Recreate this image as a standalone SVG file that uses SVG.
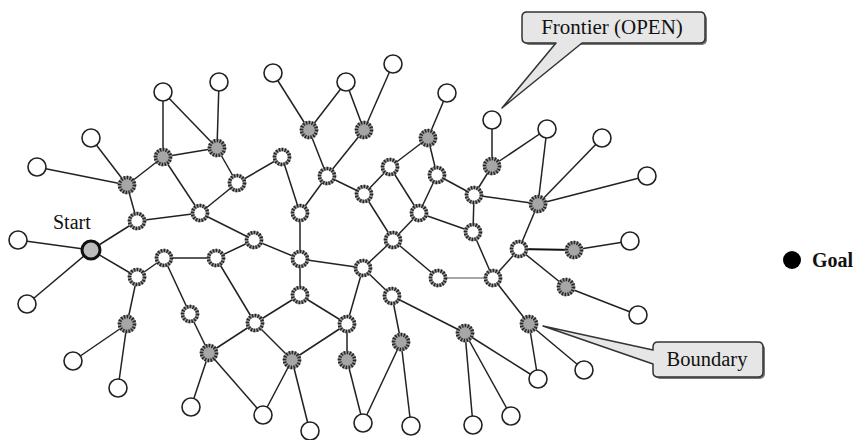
<svg xmlns="http://www.w3.org/2000/svg" xmlns:xlink="http://www.w3.org/1999/xlink" width="855" height="440" viewBox="0 0 855 440">
<style>
.e{stroke:#222;stroke-width:1.5;fill:none}
.leaf{fill:#fff;stroke:#222;stroke-width:1.6}
.rb{fill:#fff;stroke:#9a9a9a;stroke-width:3.6}
.gb{fill:#a6a6a6;stroke:#9a9a9a;stroke-width:3.6}
.rd{fill:none;stroke:#262626;stroke-width:3.6;stroke-dasharray:1.5 1.4}
.lbl{font-family:"Liberation Serif","Times New Roman",serif;fill:#111}
.box{fill:#e6e6e6;stroke:#333;stroke-width:1.5;stroke-linejoin:round}
.shadow{fill:#777}
</style>
<defs>
<g id="sh-ring"><circle r="7.5" class="rb"/><circle r="7.5" class="rd"/></g>
<g id="sh-gray"><circle r="7.5" class="gb"/><circle r="7.5" class="rd"/></g>
<circle id="sh-leaf" r="9" class="leaf"/>
</defs>
<rect width="855" height="440" fill="#fff"/>
<g id="connectors" class="e">
<line x1="91" y1="250" x2="18" y2="240"/>
<line x1="91" y1="250" x2="27" y2="304"/>
<line x1="91" y1="250" x2="137" y2="221"/>
<line x1="91" y1="250" x2="137" y2="277"/>
<line x1="137" y1="221" x2="127" y2="185"/>
<line x1="137" y1="221" x2="200" y2="213"/>
<line x1="127" y1="185" x2="37" y2="167"/>
<line x1="127" y1="185" x2="91" y2="138"/>
<line x1="127" y1="185" x2="163" y2="157"/>
<line x1="163" y1="157" x2="163" y2="92"/>
<line x1="163" y1="157" x2="217" y2="148"/>
<line x1="163" y1="157" x2="200" y2="213"/>
<line x1="217" y1="148" x2="163" y2="92"/>
<line x1="217" y1="148" x2="219" y2="82"/>
<line x1="217" y1="148" x2="237" y2="183"/>
<line x1="200" y1="213" x2="237" y2="183"/>
<line x1="200" y1="213" x2="254" y2="240"/>
<line x1="237" y1="183" x2="282" y2="157"/>
<line x1="282" y1="157" x2="300" y2="213"/>
<line x1="300" y1="213" x2="327" y2="176"/>
<line x1="300" y1="213" x2="300" y2="259"/>
<line x1="327" y1="176" x2="309" y2="130"/>
<line x1="327" y1="176" x2="364" y2="130"/>
<line x1="327" y1="176" x2="364" y2="194"/>
<line x1="309" y1="130" x2="273" y2="73"/>
<line x1="309" y1="130" x2="346" y2="82"/>
<line x1="364" y1="130" x2="346" y2="82"/>
<line x1="364" y1="130" x2="393" y2="64"/>
<line x1="364" y1="194" x2="390" y2="167"/>
<line x1="364" y1="194" x2="393" y2="240"/>
<line x1="390" y1="167" x2="428" y2="138"/>
<line x1="390" y1="167" x2="419" y2="213"/>
<line x1="428" y1="138" x2="447" y2="93"/>
<line x1="428" y1="138" x2="437" y2="175"/>
<line x1="437" y1="175" x2="419" y2="213"/>
<line x1="437" y1="175" x2="474" y2="195"/>
<line x1="419" y1="213" x2="393" y2="240"/>
<line x1="419" y1="213" x2="473" y2="232"/>
<line x1="393" y1="240" x2="363" y2="268"/>
<line x1="393" y1="240" x2="438" y2="278"/>
<line x1="474" y1="195" x2="473" y2="232"/>
<line x1="474" y1="195" x2="492" y2="166"/>
<line x1="474" y1="195" x2="538" y2="204"/>
<line x1="492" y1="166" x2="492" y2="120"/>
<line x1="492" y1="166" x2="547" y2="129"/>
<line x1="538" y1="204" x2="547" y2="129"/>
<line x1="538" y1="204" x2="602" y2="138"/>
<line x1="538" y1="204" x2="647" y2="176"/>
<line x1="538" y1="204" x2="519" y2="249"/>
<line x1="473" y1="232" x2="493" y2="278"/>
<line x1="438" y1="278" x2="493" y2="278" stroke="#888"/>
<line x1="493" y1="278" x2="519" y2="249"/>
<line x1="493" y1="278" x2="529" y2="324"/>
<line x1="519" y1="249" x2="574" y2="250" stroke-width="2.2" stroke="#111"/>
<line x1="519" y1="249" x2="566" y2="287"/>
<line x1="574" y1="250" x2="630" y2="241"/>
<line x1="566" y1="287" x2="638" y2="315"/>
<line x1="529" y1="324" x2="538" y2="379"/>
<line x1="529" y1="324" x2="584" y2="370"/>
<line x1="465" y1="333" x2="538" y2="379"/>
<line x1="465" y1="333" x2="473" y2="425"/>
<line x1="465" y1="333" x2="511" y2="416"/>
<line x1="392" y1="296" x2="465" y2="333"/>
<line x1="392" y1="296" x2="401" y2="342"/>
<line x1="363" y1="268" x2="300" y2="259"/>
<line x1="363" y1="268" x2="392" y2="296"/>
<line x1="363" y1="268" x2="347" y2="324"/>
<line x1="254" y1="240" x2="300" y2="259"/>
<line x1="254" y1="240" x2="216" y2="258"/>
<line x1="216" y1="258" x2="164" y2="258"/>
<line x1="216" y1="258" x2="255" y2="323"/>
<line x1="164" y1="258" x2="137" y2="277"/>
<line x1="164" y1="258" x2="190" y2="314"/>
<line x1="137" y1="277" x2="127" y2="324"/>
<line x1="127" y1="324" x2="73" y2="361"/>
<line x1="127" y1="324" x2="118" y2="388"/>
<line x1="190" y1="314" x2="209" y2="353"/>
<line x1="209" y1="353" x2="191" y2="407"/>
<line x1="209" y1="353" x2="255" y2="323"/>
<line x1="209" y1="353" x2="263" y2="415"/>
<line x1="255" y1="323" x2="300" y2="295"/>
<line x1="255" y1="323" x2="292" y2="360"/>
<line x1="292" y1="360" x2="263" y2="415"/>
<line x1="292" y1="360" x2="310" y2="432"/>
<line x1="300" y1="259" x2="300" y2="295"/>
<line x1="300" y1="295" x2="347" y2="324"/>
<line x1="347" y1="324" x2="292" y2="360"/>
<line x1="347" y1="324" x2="347" y2="360"/>
<line x1="347" y1="360" x2="363" y2="423"/>
<line x1="401" y1="342" x2="363" y2="423"/>
<line x1="401" y1="342" x2="411" y2="426"/>
</g>
<g id="nodes">
<g id="start"><circle cx="91" cy="250" r="9" fill="#bdbdbd" stroke="#111" stroke-width="3"/><text class="lbl" x="53" y="229" font-size="20">Start</text></g>
<g id="leaf1" transform="translate(18,240)"><use href="#sh-leaf"/></g>
<g id="leaf2" transform="translate(27,304)"><use href="#sh-leaf"/></g>
<g id="leaf3" transform="translate(37,167)"><use href="#sh-leaf"/></g>
<g id="leaf4" transform="translate(91,138)"><use href="#sh-leaf"/></g>
<g id="leaf5" transform="translate(163,92)"><use href="#sh-leaf"/></g>
<g id="leaf6" transform="translate(219,82)"><use href="#sh-leaf"/></g>
<g id="leaf7" transform="translate(273,73)"><use href="#sh-leaf"/></g>
<g id="leaf8" transform="translate(346,82)"><use href="#sh-leaf"/></g>
<g id="leaf9" transform="translate(393,64)"><use href="#sh-leaf"/></g>
<g id="leaf10" transform="translate(447,93)"><use href="#sh-leaf"/></g>
<g id="leaf11" transform="translate(492,120)"><use href="#sh-leaf"/></g>
<g id="leaf12" transform="translate(547,129)"><use href="#sh-leaf"/></g>
<g id="leaf13" transform="translate(602,138)"><use href="#sh-leaf"/></g>
<g id="leaf14" transform="translate(647,176)"><use href="#sh-leaf"/></g>
<g id="leaf15" transform="translate(630,241)"><use href="#sh-leaf"/></g>
<g id="leaf16" transform="translate(638,315)"><use href="#sh-leaf"/></g>
<g id="leaf17" transform="translate(584,370)"><use href="#sh-leaf"/></g>
<g id="leaf18" transform="translate(538,379)"><use href="#sh-leaf"/></g>
<g id="leaf19" transform="translate(511,416)"><use href="#sh-leaf"/></g>
<g id="leaf20" transform="translate(473,425)"><use href="#sh-leaf"/></g>
<g id="leaf21" transform="translate(411,426)"><use href="#sh-leaf"/></g>
<g id="leaf22" transform="translate(363,423)"><use href="#sh-leaf"/></g>
<g id="leaf23" transform="translate(310,431)"><use href="#sh-leaf"/></g>
<g id="leaf24" transform="translate(263,415)"><use href="#sh-leaf"/></g>
<g id="leaf25" transform="translate(191,407)"><use href="#sh-leaf"/></g>
<g id="leaf26" transform="translate(118,388)"><use href="#sh-leaf"/></g>
<g id="leaf27" transform="translate(73,361)"><use href="#sh-leaf"/></g>
<g id="ringA" transform="translate(137,221)"><use href="#sh-ring"/></g>
<g id="ringE" transform="translate(200,213)"><use href="#sh-ring"/></g>
<g id="ringF" transform="translate(237,183)"><use href="#sh-ring"/></g>
<g id="ringG" transform="translate(254,240)"><use href="#sh-ring"/></g>
<g id="ringH" transform="translate(282,157)"><use href="#sh-ring"/></g>
<g id="ring1" transform="translate(300,213)"><use href="#sh-ring"/></g>
<g id="ring2" transform="translate(327,176)"><use href="#sh-ring"/></g>
<g id="ring3" transform="translate(364,194)"><use href="#sh-ring"/></g>
<g id="ring4" transform="translate(390,167)"><use href="#sh-ring"/></g>
<g id="ring5" transform="translate(437,175)"><use href="#sh-ring"/></g>
<g id="ring6" transform="translate(419,213)"><use href="#sh-ring"/></g>
<g id="ring7" transform="translate(393,240)"><use href="#sh-ring"/></g>
<g id="ring8" transform="translate(474,195)"><use href="#sh-ring"/></g>
<g id="ring9" transform="translate(473,232)"><use href="#sh-ring"/></g>
<g id="ring10" transform="translate(519,249)"><use href="#sh-ring"/></g>
<g id="ring11" transform="translate(438,278)"><use href="#sh-ring"/></g>
<g id="ring12" transform="translate(493,278)"><use href="#sh-ring"/></g>
<g id="ring13" transform="translate(363,268)"><use href="#sh-ring"/></g>
<g id="ring14" transform="translate(300,259)"><use href="#sh-ring"/></g>
<g id="ring15" transform="translate(300,295)"><use href="#sh-ring"/></g>
<g id="ring16" transform="translate(347,324)"><use href="#sh-ring"/></g>
<g id="ring17" transform="translate(392,296)"><use href="#sh-ring"/></g>
<g id="ring18" transform="translate(255,323)"><use href="#sh-ring"/></g>
<g id="ring19" transform="translate(216,258)"><use href="#sh-ring"/></g>
<g id="ring20" transform="translate(164,258)"><use href="#sh-ring"/></g>
<g id="ring21" transform="translate(137,277)"><use href="#sh-ring"/></g>
<g id="ring22" transform="translate(190,314)"><use href="#sh-ring"/></g>
<g id="grayB" transform="translate(127,185)"><use href="#sh-gray"/></g>
<g id="grayC" transform="translate(163,157)"><use href="#sh-gray"/></g>
<g id="grayD" transform="translate(217,148)"><use href="#sh-gray"/></g>
<g id="gray1" transform="translate(309,130)"><use href="#sh-gray"/></g>
<g id="gray2" transform="translate(364,130)"><use href="#sh-gray"/></g>
<g id="gray3" transform="translate(428,138)"><use href="#sh-gray"/></g>
<g id="gray4" transform="translate(492,166)"><use href="#sh-gray"/></g>
<g id="gray5" transform="translate(538,204)"><use href="#sh-gray"/></g>
<g id="gray6" transform="translate(574,250)"><use href="#sh-gray"/></g>
<g id="gray7" transform="translate(566,287)"><use href="#sh-gray"/></g>
<g id="gray8" transform="translate(529,324)"><use href="#sh-gray"/></g>
<g id="gray9" transform="translate(465,333)"><use href="#sh-gray"/></g>
<g id="gray10" transform="translate(401,342)"><use href="#sh-gray"/></g>
<g id="gray11" transform="translate(347,360)"><use href="#sh-gray"/></g>
<g id="gray12" transform="translate(292,360)"><use href="#sh-gray"/></g>
<g id="gray13" transform="translate(209,353)"><use href="#sh-gray"/></g>
<g id="gray14" transform="translate(127,324)"><use href="#sh-gray"/></g>
<g id="goal"><circle cx="792" cy="260" r="9" fill="#000"/><text class="lbl" x="812" y="267" font-size="20" font-weight="bold">Goal</text></g>
</g>
<g id="callout-frontier">
<rect class="shadow" x="524" y="14" width="183" height="31" rx="5"/>
<path class="box" d="M527,12 H700 Q705,12 705,17 V38 Q705,43 700,43 H582 L502,108 L556,43 H527 Q522,43 522,38 V17 Q522,12 527,12 Z"/>
<text class="lbl" x="612" y="34" font-size="21" text-anchor="middle">Frontier (OPEN)</text>
</g>
<g id="callout-boundary">
<rect class="shadow" x="655" y="344" width="110" height="35" rx="5"/>
<path class="box" d="M658,342 H758 Q763,342 763,347 V372 Q763,377 758,377 H658 Q653,377 653,372 V364 L543,326 L653,350 V347 Q653,342 658,342 Z"/>
<text class="lbl" x="707" y="366" font-size="20.5" text-anchor="middle">Boundary</text>
</g>
</svg>
